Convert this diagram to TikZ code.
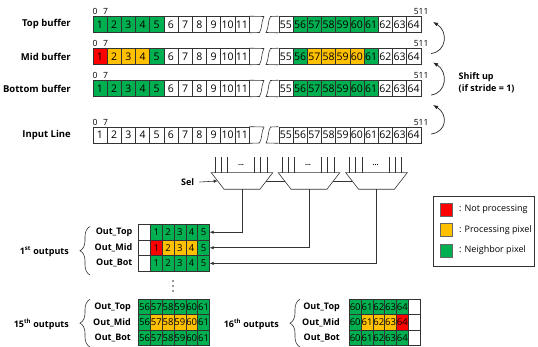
\documentclass[tikz,border=0pt]{standalone}
\usepackage{fontspec}
\setmainfont{Open Sans}
\usepackage{tikz}
\usetikzlibrary{positioning,calc,arrows.meta,decorations.pathreplacing}
\definecolor{npred}{HTML}{FF0000}
\definecolor{pryel}{HTML}{FFC000}
\definecolor{nbgrn}{HTML}{00B050}
\tikzset{
  bcell/.style    = {draw=black!80, fill=white, minimum width=14.2pt, minimum height=16pt, inner sep=0pt, anchor=west, line width=0.6pt, font=\fontsize{10.5}{10.5}\selectfont},
  ocell/.style    = {draw=black!80, fill=white, minimum width=11.8pt, minimum height=15.4pt, inner sep=0pt, anchor=west, line width=0.6pt, font=\fontsize{9.5}{9.5}\selectfont},
  wh/.style       = {fill=white},
  np/.style       = {fill=npred},
  pr/.style       = {fill=pryel},
  nb/.style       = {fill=nbgrn},
  rowlbl/.style   = {font=\fontsize{9.5}{10}\selectfont\bfseries, anchor=east, inner sep=0pt},
  outlbl/.style   = {font=\fontsize{9}{10}\selectfont\bfseries, anchor=east, inner sep=0pt},
  idx/.style      = {font=\fontsize{8.5}{9}\selectfont, inner sep=0pt},
  muxbox/.style   = {draw=black!80, fill=white, line width=0.6pt},
  wire/.style     = {draw=black!80, line width=0.6pt},
  arr/.style      = {-{Latex[length=4pt,width=3.5pt]}, draw=black!80, line width=0.6pt},
  shiftarr/.style = {-{Latex[length=5pt,width=4pt]}, draw=black!85, line width=0.7pt},
  brc/.style      = {decorate, decoration={brace, amplitude=10pt}, draw=black!80, line width=0.6pt},
  legbox/.style   = {draw=black!80, line width=0.6pt},
  legsq/.style    = {draw=black!60, minimum width=12.3pt, minimum height=13.3pt, inner sep=0pt},
  legtxt/.style   = {font=\fontsize{9}{10}\selectfont, anchor=west, inner sep=0pt},
}

\begin{document}
\begin{tikzpicture}[x=1pt,y=-1pt]
  \useasboundingbox (0,0) rectangle (538,347);

  % line buffers
  \foreach \r/\y/\txt/\lf/\rf in {
      t/24.5/Top buffer/{nb,nb,nb,nb,nb,wh,wh,wh,wh,wh,wh}/{wh,nb,nb,nb,nb,nb,nb,wh,wh,wh},
      m/56.5/Mid buffer/{np,pr,pr,pr,nb,wh,wh,wh,wh,wh,wh}/{wh,nb,pr,pr,pr,pr,nb,wh,wh,wh},
      b/88.5/Bottom buffer/{nb,nb,nb,nb,nb,wh,wh,wh,wh,wh,wh}/{wh,nb,nb,nb,nb,nb,nb,wh,wh,wh},
      inp/135/Input Line/{wh,wh,wh,wh,wh,wh,wh,wh,wh,wh,wh}/{wh,wh,wh,wh,wh,wh,wh,wh,wh,wh}} {
    \node[rowlbl] (\r-lbl) at (71,\y) {\txt};
    \foreach \f [count=\i] in \lf
      \node[bcell,\f] (\r-\i) at ({92.5+(\i-1)*14.2},\y) {\i};
    \foreach \f [count=\i from 55] in \rf
      \node[bcell,\f] (\r-\i) at ({278.5+(\i-55)*14.2},\y) {\i};
    % break
    \draw[wire] (\r-11.north east) -- (264,{\y-8});
    \draw[wire] (\r-11.south east) -- (259.5,{\y+8}) .. controls (262.5,{\y+3}) and (261,{\y-3}) .. (264,{\y-8});
    \draw[wire] (\r-55.north west) -- (270.5,{\y-8}) .. controls (267.5,{\y-3}) and (269,{\y+3}) .. (266,{\y+8}) -- (\r-55.south west);
    \node[idx, anchor=south west] (\r-lo) at ([yshift=1.2pt]\r-1.north west) {0\hspace{5.5pt}7};
    \node[idx, anchor=south] (\r-hi) at ([yshift=1.2pt]\r-64.north east) {511};
  }

  % shift arrows
  \draw[shiftarr] ($(m-64.east)+(10,-3)$) .. controls +(16,-2) and +(15,9) .. ($(t-64.east)+(12,-2.5)$);
  \draw[shiftarr] ($(b-64.east)+(10,6.5)$) .. controls +(16,-2) and +(15,9) .. ($(m-64.east)+(12,6)$);
  \draw[shiftarr] ($(inp-64.east)+(10,-1)$) .. controls +(16,-2) and +(15,9) .. ($(b-64.east)+(12,16.5)$);
  \node[font=\fontsize{9}{12}\selectfont\bfseries, anchor=west, align=left, inner sep=0pt] (shift) at (458.5,83) {Shift up\\(if stride = 1)};

  % muxes
  \foreach \m/\x in {1/242,2/309,3/376.5} {
    \coordinate (mux\m) at (\x,181);
    \coordinate (mux\m-in) at ({\x-24.3},181);
    \coordinate (mux\m-out) at ({\x+24.3},181);
    \coordinate (mux\m-bot) at (\x,189.3);
    \draw[muxbox] ({\x-30.75},172.7) -- ({\x+30.75},172.7) -- ({\x+17.9},189.3) -- ({\x-17.9},189.3) -- cycle;
    \foreach \dx in {-27,-21,-14.5,12.5,18.5,25}
      \draw[wire] ({\x+\dx},172.7) -- ++(0,-16);
    \node[font=\fontsize{7}{7}\selectfont\bfseries, inner sep=0pt] (dots\m) at ({\x-1},165.5) {...};
  }
  \node[outlbl, anchor=west] (sel) at (181,182) {Sel};
  \draw[arr] ([xshift=5pt]sel.east) -- (mux1-in);
  \draw[wire] (mux1-out) -- (mux2-in);
  \draw[wire] (mux2-out) -- (mux3-in);

  % 1st outputs
  \foreach \r/\y/\txt/\fl in {
      t/232.2/Out\_Top/{nb,nb,nb,nb,nb},
      m/247.8/Out\_Mid/{np,pr,pr,pr,nb},
      b/263.4/Out\_Bot/{nb,nb,nb,nb,nb}} {
    \node[outlbl] (o1\r-lbl) at (132.5,\y) {\txt};
    \node[ocell] (o1\r-0) at (138.3,\y) {};
    \foreach \f [count=\i] in \fl
      \node[ocell,\f] (o1\r-\i) at ({138.3+\i*11.8},\y) {\i};
  }
  \draw[arr] (mux1-bot) |- (o1t-5.east);
  \draw[arr] (mux2-bot) |- (o1m-5.east);
  \draw[arr] (mux3-bot) |- (o1b-5.east);
  \draw[brc] (90,275) -- (90,226.5);
  \node[outlbl] (o1-lbl) at (69,251.5) {1\textsuperscript{st} outputs};

  % vertical dots
  \foreach \yy in {281,286,291}
    \fill[black!80] (173,\yy) circle (0.9);

  % 15th outputs
  \foreach \r/\y/\txt/\fl in {
      t/307/Out\_Top/{nb,nb,nb,nb,nb,nb},
      m/322.4/Out\_Mid/{nb,pr,pr,pr,pr,nb},
      b/337.8/Out\_Bot/{nb,nb,nb,nb,nb,nb}} {
    \node[outlbl] (o15\r-lbl) at (131,\y) {\txt};
    \foreach \f [count=\i from 56] in \fl
      \node[ocell,\f] (o15\r-\i) at ({138.3+(\i-56)*11.8},\y) {\i};
  }
  \draw[brc] (90,347) -- (90,299.3);
  \node[outlbl] (o15-lbl) at (69,324.5) {15\textsuperscript{th} outputs};

  % 16th outputs
  \foreach \r/\y/\txt/\fl in {
      t/307/Out\_Top/{nb,nb,nb,nb,nb},
      m/322.4/Out\_Mid/{nb,pr,pr,pr,np},
      b/337.8/Out\_Bot/{nb,nb,nb,nb,nb}} {
    \node[outlbl] (o16\r-lbl) at (340,\y) {\txt};
    \foreach \f [count=\i from 60] in \fl
      \node[ocell,\f] (o16\r-\i) at ({349+(\i-60)*11.8},\y) {\i};
    \node[ocell] (o16\r-x) at (408,\y) {};
  }
  \draw[brc] (300,347) -- (300,299.3);
  \node[outlbl] (o16-lbl) at (279,324.5) {16\textsuperscript{th} outputs};

  % legend
  \draw[legbox] (433,196.3) rectangle (534,266.3);
  \foreach \f/\y/\txt in {np/209.5/Not processing, pr/230/Processing pixel, nb/250.5/Neighbor pixel} {
    \node[legsq,\f] (key-\f) at (446.2,\y) {};
    \node[legtxt] (key-\f-t) at (459,\y) {: \txt};
  }
\end{tikzpicture}
\end{document}
